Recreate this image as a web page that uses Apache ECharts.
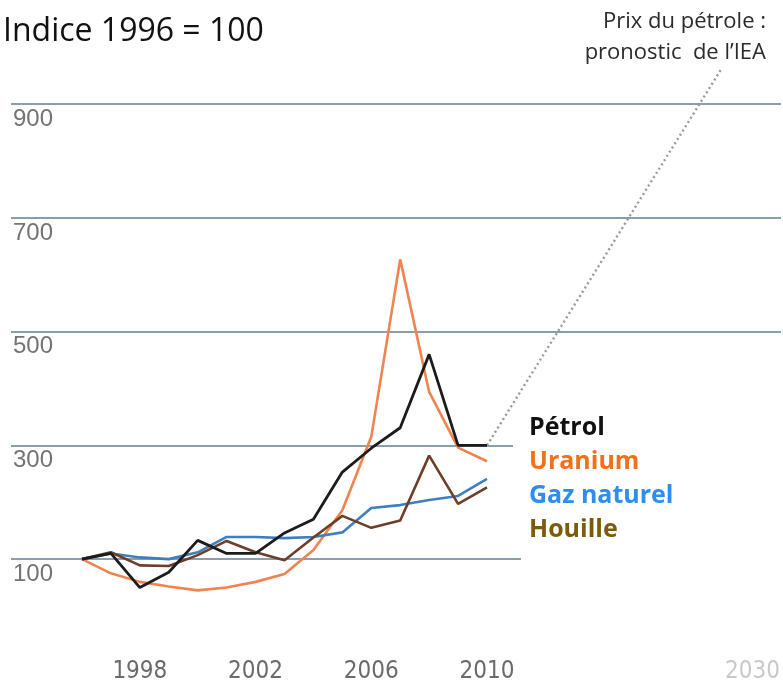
<!DOCTYPE html>
<html><head><meta charset="utf-8">
<script src="https://cdn.jsdelivr.net/npm/echarts@6/dist/echarts.min.js"></script>
<style>html,body{margin:0;padding:0;background:#fff}#c{width:783px;height:689px}</style>
</head><body><div id="c"></div>
<script>
// ---- data (Indice 1996 = 100) ----
const years    = [1996,1997,1998,1999,2000,2001,2002,2003,2004,2005,2006,2007,2008,2009,2010];
const petrol   = [100, 110, 50, 77, 133, 110, 110, 146, 170, 253, 295, 331, 460, 300, 300];
const uranium  = [100, 75, 60, 52, 45, 50, 60, 74, 116, 186, 315, 627, 394, 296, 272];
const gaz      = [100, 110, 103, 100, 112, 139, 139, 137, 139, 147, 190, 195, 204, 211, 241];
const houille  = [100, 112, 89, 88, 107, 132, 112, 98, 138, 176, 155, 168, 282, 197, 226];
const forecastYears  = [2010, 2030];
const forecastPetrol = [300, 1050];
const yTicks = [100, 300, 500, 700, 900];
const xTicksHist = [1998, 2002, 2006, 2010];
const xTicksForecast = [2030];
const legendLabels = ['Pétrol', 'Uranium', 'Gaz naturel', 'Houille'];
const titleText = 'Indice 1996 = 100';
const noteLines = ['Prix du pétrole :', 'pronostic  de l\u2019IEA'];

// ---- style ----
const lineColors   = ['#1c1c1c', '#f0834f', '#3f7fbf', '#6e3f28'];
const legendColors = ['#111111', '#f0701c', '#2b8ef0', '#7a5c0c'];
const Y_MIN = 0, Y_MAX = 960;
const condensed = "'DejaVu Sans Condensed', 'Roboto Condensed', 'Liberation Sans Narrow', 'DejaVu Sans', sans-serif";

const chart = echarts.init(document.getElementById('c'), null, {renderer: 'canvas'});
const pairs = (xs, ys) => xs.map((x, i) => [x, ys[i]]);
const xLabelBase = {
  fontFamily: condensed, fontSize: 24, margin: 44,
  formatter: v => String(v)
};

const option = {
  animation: false,
  backgroundColor: '#ffffff',
  grid: [
    {left: 11, right: 2, top: 70, bottom: 73},
    {left: 82, right: 296, top: 70, bottom: 73},
    {left: 487, right: 18, top: 70, bottom: 73}
  ],
  xAxis: [
    {gridIndex: 0, type: 'value', min: 0, max: 1, show: false},
    {gridIndex: 1, type: 'value', min: 1996, max: 2010,
      axisLine: {show: false}, splitLine: {show: false},
      axisTick: {show: false, customValues: xTicksHist},
      axisLabel: Object.assign({}, xLabelBase, {customValues: xTicksHist, color: '#6b6b6b'})},
    {gridIndex: 2, type: 'value', min: 2010, max: 2030,
      axisLine: {show: false}, splitLine: {show: false},
      axisTick: {show: false, customValues: xTicksForecast},
      axisLabel: Object.assign({}, xLabelBase, {customValues: xTicksForecast, color: '#c9c9c9'})}
  ],
  yAxis: [
    {gridIndex: 0, type: 'value', min: Y_MIN, max: Y_MAX,
      axisLine: {show: false},
      axisTick: {show: false, customValues: yTicks},
      axisLabel: {customValues: yTicks, inside: true, margin: 2, verticalAlign: 'top',
        padding: [3, 0, 0, 0], fontFamily: 'Liberation Sans', fontSize: 24, color: '#747474',
        formatter: v => String(v)},
      splitLine: {show: true, lineStyle: {color: '#8a9fac', width: 2}}},
    {gridIndex: 1, type: 'value', min: Y_MIN, max: Y_MAX, show: false},
    {gridIndex: 2, type: 'value', min: Y_MIN, max: Y_MAX, show: false}
  ],
  series: [
    {type: 'line', xAxisIndex: 2, yAxisIndex: 2, data: pairs(forecastYears, forecastPetrol),
      symbol: 'none', clip: true, z: 2,
      lineStyle: {color: '#9a9a9a', width: 2.4, type: [2, 3]}},
    {name: legendLabels[1], type: 'line', xAxisIndex: 1, yAxisIndex: 1, data: pairs(years, uranium),
      symbol: 'none', z: 3, lineStyle: {color: lineColors[1], width: 2.6}},
    {name: legendLabels[2], type: 'line', xAxisIndex: 1, yAxisIndex: 1, data: pairs(years, gaz),
      symbol: 'none', z: 3, lineStyle: {color: lineColors[2], width: 2.6}},
    {name: legendLabels[3], type: 'line', xAxisIndex: 1, yAxisIndex: 1, data: pairs(years, houille),
      symbol: 'none', z: 4, lineStyle: {color: lineColors[3], width: 2.6}},
    {name: legendLabels[0], type: 'line', xAxisIndex: 1, yAxisIndex: 1, data: pairs(years, petrol),
      symbol: 'none', z: 5, lineStyle: {color: lineColors[0], width: 2.8}}
  ],
  graphic: [
    {type: 'rect', z: 1, shape: {x: 513, y: 415, width: 270, height: 40}, style: {fill: '#ffffff'}},
    {type: 'rect', z: 1, shape: {x: 521, y: 545, width: 262, height: 25}, style: {fill: '#ffffff'}},
    {type: 'text', z: 10, x: 3, y: 32,
      style: {text: titleText, fontFamily: 'Open Sans', fontSize: 32, fill: '#111111',
        align: 'left', verticalAlign: 'middle'}},
    {type: 'text', z: 10, x: 766, y: 22,
      style: {text: noteLines[0], fontFamily: 'Open Sans', fontSize: 22, fill: '#2b2b2b',
        align: 'right', verticalAlign: 'middle'}},
    {type: 'text', z: 10, x: 766, y: 53,
      style: {text: noteLines[1], fontFamily: 'Open Sans', fontSize: 22, fill: '#2b2b2b',
        align: 'right', verticalAlign: 'middle'}}
  ].concat(legendLabels.map((t, i) => ({
    type: 'text', z: 10, x: 529, y: 428 + i * 34,
    style: {text: t, fontFamily: 'Open Sans', fontWeight: 'bold', fontSize: 25,
      fill: legendColors[i], align: 'left', verticalAlign: 'middle'}
  })))
};
chart.setOption(option);
</script>
</body></html>
